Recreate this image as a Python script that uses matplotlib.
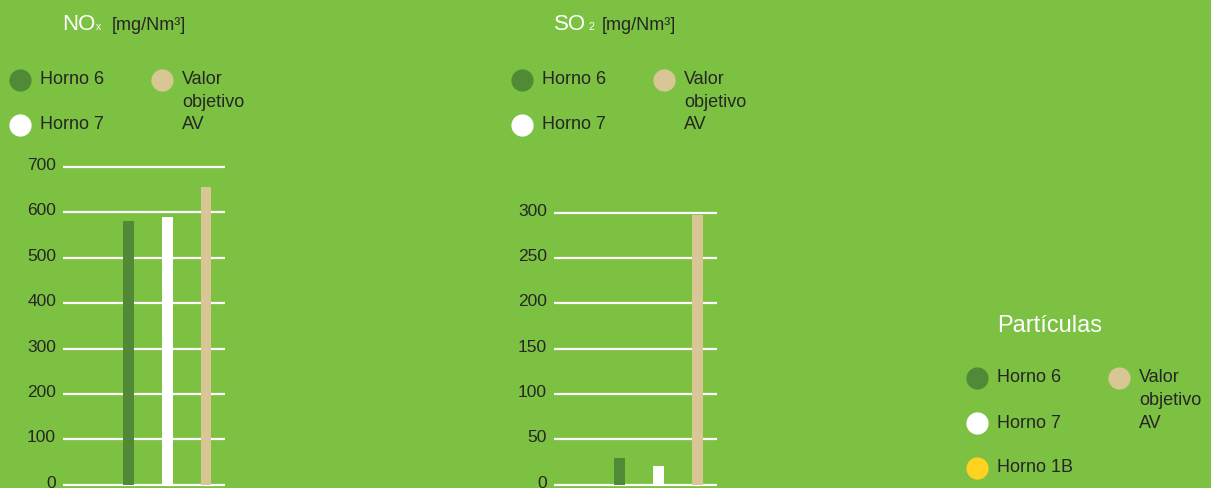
import matplotlib.pyplot as plt
import matplotlib.transforms as mtransforms
from matplotlib.lines import Line2D

plt.rcParams['font.family'] = ['Liberation Sans', 'DejaVu Sans']

series = ['Horno 6', 'Horno 7', 'Valor\nobjetivo\nAV']
nox_values = [580, 590, 655]
so2_values = [29, 21, 298]
nox_ticks = [0, 100, 200, 300, 400, 500, 600, 700]
so2_ticks = [0, 50, 100, 150, 200, 250, 300]

bg = '#7cc142'
dark = '#508a37'
tan = '#d8c794'
yellow = '#ffd21f'
txt = '#262626'
bar_colors = [dark, 'white', tan]

W, H = 1211, 488
fig = plt.figure(figsize=(W / 100, H / 100), dpi=100)
fig.patch.set_facecolor(bg)


def px(x, y):
    return x / W, 1 - y / H


def make_axes(left, right, top, bottom, values, ticks):
    x0, y0 = px(left, bottom)
    x1, y1 = px(right, top)
    ax = fig.add_axes([x0, y0, x1 - x0, y1 - y0])
    ax.set_facecolor('none')
    pos = list(range(len(values)))
    ax.bar(pos, values, width=0.28, color=bar_colors, zorder=3)
    ax.hlines(ticks, -1.68, 2.49, colors='white', linewidth=1.6,
              clip_on=False, zorder=2)
    ax.set_xlim(-1.68, 2.49)
    ax.set_ylim(0, ticks[-1])
    ax.set_yticks(ticks)
    ax.set_xticks([])
    ax.tick_params(axis='y', length=0, pad=5, labelsize=12.5, labelcolor=txt)
    # labels sit slightly above their gridlines
    shift = mtransforms.ScaledTranslation(0, 3 / 100, fig.dpi_scale_trans)
    for lab in ax.get_yticklabels():
        lab.set_transform(lab.get_transform() + shift)
    for s in ax.spines.values():
        s.set_visible(False)
    return ax


make_axes(63, 225, 167, 484.7, nox_values, nox_ticks)
make_axes(554, 717, 212.7, 484.7, so2_values, so2_ticks)


def text(x, y, s, **kw):
    fx, fy = px(x, y)
    fig.text(fx, fy, s, **kw)


def dot(x, y, color):
    fx, fy = px(x, y)
    fig.add_artist(Line2D([fx], [fy], marker='o', markersize=16,
                          markerfacecolor=color, markeredgecolor='none',
                          linestyle='none', transform=fig.transFigure))


def label(x, y, s):
    for i, line in enumerate(s.split('\n')):
        text(x, y + 22.5 * i, line, fontsize=13, color=txt, va='center')


def legend(x_dot, x_txt, x_dot2, x_txt2, y):
    dot(x_dot, y, dark)
    label(x_txt, y, series[0])
    dot(x_dot, y + 45, 'white')
    label(x_txt, y + 45, series[1])
    dot(x_dot2, y, tan)
    label(x_txt2, y, series[2])


# titles
text(62, 30, 'NO', fontsize=16, color='white', va='baseline')
text(96, 30, 'x', fontsize=7.5, color='white', va='baseline')
text(112, 30, '[mg/Nm³]', fontsize=13, color=txt, va='baseline')
text(554, 30, 'SO', fontsize=16, color='white', va='baseline')
text(588, 30, '2', fontsize=7.5, color='white', va='baseline')
text(602, 30, '[mg/Nm³]', fontsize=13, color=txt, va='baseline')
text(997, 332, 'Partículas', fontsize=17, color='white', va='baseline')

legend(20, 40, 162, 182, 80)
legend(522, 542, 664, 684, 80)
legend(977, 997, 1119, 1139, 378)
dot(977, 468, yellow)
label(997, 468, 'Horno 1B')

fig.savefig('out.png', dpi=100, facecolor=bg)
